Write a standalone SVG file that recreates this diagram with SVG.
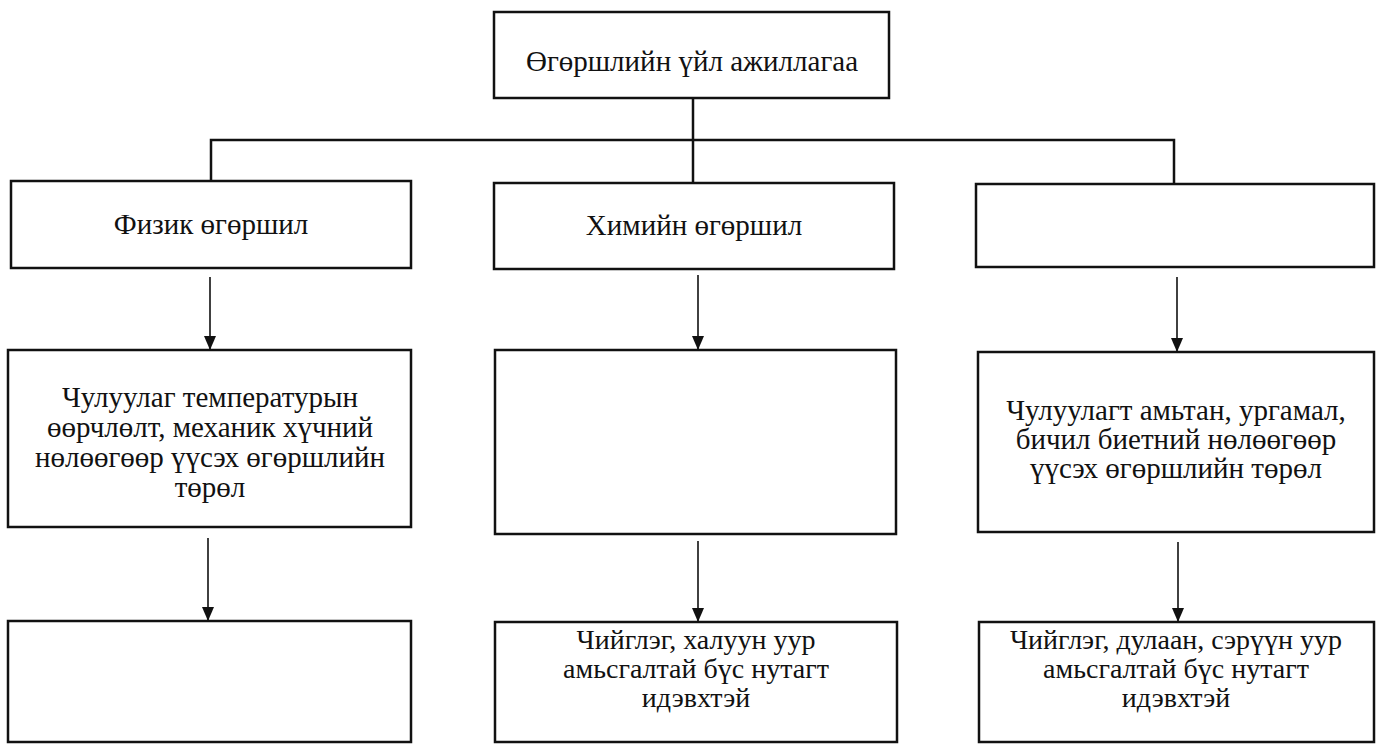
<svg xmlns="http://www.w3.org/2000/svg" width="1376" height="744" viewBox="0 0 1376 744">
<style>
.box{fill:#fff;stroke:#111;stroke-width:2.5}
.ln{fill:none;stroke:#111;stroke-width:2.5}
.ar{fill:none;stroke:#111;stroke-width:1.6}
text{font-family:"Liberation Serif","DejaVu Serif","Times New Roman",serif;font-size:29px;fill:#111;text-anchor:middle}
text.sm{font-size:28px}
</style>
<defs>
<marker id="ah" viewBox="0 0 14 12" refX="14" refY="6" markerWidth="14" markerHeight="12" markerUnits="userSpaceOnUse" orient="auto">
<path d="M0,0 L14,6 L0,12 Z" fill="#111"/>
</marker>
</defs>
<rect width="1376" height="744" fill="#fff"/>
<g id="connectors">
<path class="ln" d="M693,98 V183"/>
<path class="ln" d="M211,181 V140 H1174 V184"/>
<path class="ar" d="M210,277 V350" marker-end="url(#ah)"/>
<path class="ar" d="M698,275 V350" marker-end="url(#ah)"/>
<path class="ar" d="M1177,277 V352" marker-end="url(#ah)"/>
<path class="ar" d="M208,538 V621" marker-end="url(#ah)"/>
<path class="ar" d="M698,541 V622" marker-end="url(#ah)"/>
<path class="ar" d="M1178,542 V622" marker-end="url(#ah)"/>
</g>
<g id="n-top">
<rect class="box" x="494" y="12" width="395" height="86"/>
<text x="692" y="71">Өгөршлийн үйл ажиллагаа</text>
</g>
<g id="n-phys">
<rect class="box" x="11" y="181" width="400" height="87"/>
<text x="211" y="234">Физик өгөршил</text>
</g>
<g id="n-chem">
<rect class="box" x="494" y="183" width="400" height="86"/>
<text x="694" y="235">Химийн өгөршил</text>
</g>
<g id="n-bio">
<rect class="box" x="976" y="184" width="398" height="83"/>
</g>
<g id="n-phys-desc">
<rect class="box" x="8" y="350" width="403" height="177"/>
<text x="210" y="407"><tspan x="210" y="407">Чулуулаг температурын</tspan><tspan x="210" y="437">өөрчлөлт, механик хүчний</tspan><tspan x="210" y="467">нөлөөгөөр үүсэх өгөршлийн</tspan><tspan x="210" y="497">төрөл</tspan></text>
</g>
<g id="n-chem-desc">
<rect class="box" x="495" y="350" width="401" height="184"/>
</g>
<g id="n-bio-desc">
<rect class="box" x="978" y="352" width="396" height="180"/>
<text x="1176" y="420"><tspan x="1176" y="420">Чулуулагт амьтан, ургамал,</tspan><tspan x="1176" y="449">бичил биетний нөлөөгөөр</tspan><tspan x="1176" y="478">үүсэх өгөршлийн төрөл</tspan></text>
</g>
<g id="n-phys-clim">
<rect class="box" x="8" y="621" width="403" height="121"/>
</g>
<g id="n-chem-clim">
<rect class="box" x="495" y="622" width="402" height="120"/>
<text class="sm" x="696" y="649"><tspan x="696" y="649">Чийглэг,  халуун уур</tspan><tspan x="696" y="678">амьсгалтай  бүс нутагт</tspan><tspan x="696" y="707">идэвхтэй</tspan></text>
</g>
<g id="n-bio-clim">
<rect class="box" x="979" y="622" width="395" height="120"/>
<text class="sm" x="1176" y="649"><tspan x="1176" y="649">Чийглэг,  дулаан, сэрүүн уур</tspan><tspan x="1176" y="678">амьсгалтай  бүс нутагт</tspan><tspan x="1176" y="707">идэвхтэй</tspan></text>
</g>
</svg>
